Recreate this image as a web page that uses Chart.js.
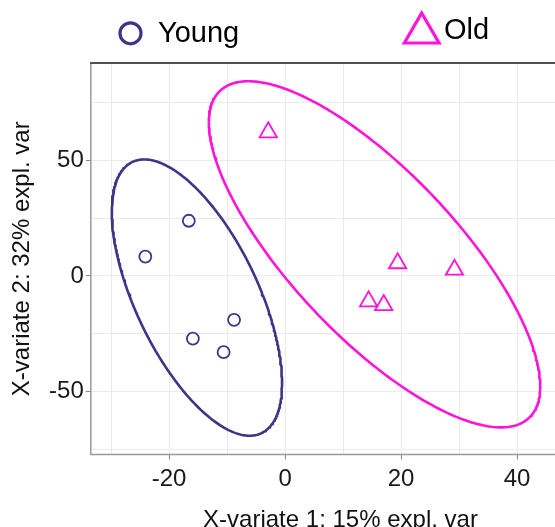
<!DOCTYPE html>
<html>
<head>
<meta charset="utf-8">
<script src="https://cdn.jsdelivr.net/npm/chart.js@4/dist/chart.umd.min.js"></script>
<style>
    html, body { margin: 0; padding: 0; background: #fff; overflow: hidden; }
    #wrap { width: 602px; height: 527px; }
</style>
</head>
<body>
<div id="wrap"><canvas id="plsdaChart" width="602" height="527"></canvas></div>
<script>
// Sample scores on the first two X-variates
const youngX = [-16.6, -24.1, -8.8, -15.9, -10.6];
const youngY = [23.9, 8.4, -19.0, -27.1, -33.0];
const oldX = [-2.9, 19.4, 29.2, 14.4, 17.0];
const oldY = [62.2, 5.5, 2.7, -11.0, -12.6];

const groupNames = ['Young', 'Old'];

// Axis grid and tick labels
const xGridValues = [-30, -20, -10, 0, 10, 20, 30, 40, 50];
const xTickLabels = [-20, 0, 20, 40];
const yGridValues = [-75, -50, -25, 0, 25, 50, 75];
const yTickLabels = [-50, 0, 50];
const xLimits = [-33.5, 52.6];
const yLimits = [-77.3, 92.2];

const youngColor = '#3d3587';
const oldColor = '#ff14d8';
const fontFamily = '"Liberation Sans", Arial, Helvetica, sans-serif';

const toPoints = (xs, ys) => xs.map((x, i) => ({ x: x, y: ys[i] }));

// 95% confidence ellipse of a group (same construction as ellipse::ellipse in R)
function confidenceEllipse(xs, ys, steps) {
    const n = xs.length;
    const mx = xs.reduce((a, b) => a + b, 0) / n;
    const my = ys.reduce((a, b) => a + b, 0) / n;
    let sxx = 0, syy = 0, sxy = 0;
    for (let i = 0; i < n; i++) {
        sxx += (xs[i] - mx) ** 2;
        syy += (ys[i] - my) ** 2;
        sxy += (xs[i] - mx) * (ys[i] - my);
    }
    const sx = Math.sqrt(sxx / (n - 1));
    const sy = Math.sqrt(syy / (n - 1));
    const d = Math.acos((sxy / (n - 1)) / (sx * sy));
    const t = Math.sqrt(5.991465); // qchisq(0.95, 2)
    const pts = [];
    for (let k = 0; k < steps; k++) {
        const a = 2 * Math.PI * k / (steps - 1);
        pts.push({ x: t * sx * Math.cos(a + d / 2) + mx, y: t * sy * Math.cos(a - d / 2) + my });
    }
    return pts;
}

// Panel border: light grey left/bottom, darker line on top
const panelBorder = {
    id: 'panelBorder',
    afterDraw(chart) {
        const { ctx, chartArea: a } = chart;
        ctx.save();
        ctx.strokeStyle = '#9a9a9a';
        ctx.lineWidth = 1.5;
        ctx.beginPath();
        ctx.moveTo(a.left, a.top);
        ctx.lineTo(a.left, a.bottom);
        ctx.lineTo(a.right, a.bottom);
        ctx.stroke();
        ctx.strokeStyle = '#505050';
        ctx.lineWidth = 2;
        ctx.beginPath();
        ctx.moveTo(a.left - 0.75, a.top);
        ctx.lineTo(a.right, a.top);
        ctx.stroke();
        ctx.restore();
    }
};

// Legend above the panel, symbols drawn like the points
const groupLegend = {
    id: 'groupLegend',
    afterDraw(chart, args, opts) {
        const ctx = chart.ctx;
        opts.items.forEach(item => {
            const ds = chart.data.datasets[item.dataset];
            ctx.save();
            ctx.strokeStyle = ds.pointBorderColor;
            ctx.lineWidth = 3.2;
            ctx.beginPath();
            if (ds.pointStyle === 'triangle') {
                for (let k = 0; k < 3; k++) {
                    const rad = k * 2 * Math.PI / 3;
                    const px = item.x + Math.sin(rad) * item.r;
                    const py = item.y - Math.cos(rad) * item.r;
                    if (k === 0) ctx.moveTo(px, py); else ctx.lineTo(px, py);
                }
                ctx.closePath();
            } else {
                ctx.arc(item.x, item.y, item.r, 0, 2 * Math.PI);
            }
            ctx.stroke();
            ctx.fillStyle = '#000';
            ctx.font = '29px ' + fontFamily;
            ctx.textBaseline = 'alphabetic';
            ctx.fillText(ds.label, item.textX, item.baseline);
            ctx.restore();
        });
    }
};

const ctx = document.getElementById('plsdaChart');

new Chart(ctx, {
    type: 'scatter',
    data: {
        datasets: [
            {
                label: groupNames[0],
                data: toPoints(youngX, youngY),
                pointStyle: 'circle',
                pointRadius: 6,
                pointBorderWidth: 1.8,
                pointBorderColor: youngColor,
                pointBackgroundColor: 'rgba(0,0,0,0)'
            },
            {
                label: groupNames[1],
                data: toPoints(oldX, oldY),
                pointStyle: 'triangle',
                pointRadius: 10,
                pointBorderWidth: 1.8,
                pointBorderColor: oldColor,
                pointBackgroundColor: 'rgba(0,0,0,0)'
            },
            {
                label: groupNames[0] + ' ellipse',
                data: confidenceEllipse(youngX, youngY, 361),
                showLine: true,
                pointRadius: 0,
                borderColor: youngColor,
                borderWidth: 2.6,
                borderJoinStyle: 'round',
                borderCapStyle: 'round',
                tension: 0,
                fill: false
            },
            {
                label: groupNames[1] + ' ellipse',
                data: confidenceEllipse(oldX, oldY, 361),
                showLine: true,
                pointRadius: 0,
                borderColor: oldColor,
                borderWidth: 2.6,
                borderJoinStyle: 'round',
                borderCapStyle: 'round',
                tension: 0,
                fill: false
            }
        ]
    },
    options: {
        responsive: false,
        animation: false,
        events: [],
        layout: { padding: { top: 63, right: 6, left: 0, bottom: 0 } },
        plugins: {
            legend: { display: false },
            tooltip: { enabled: false },
            groupLegend: {
                items: [
                    { dataset: 0, x: 130.5, y: 33.3, r: 10.5, textX: 158, baseline: 41.5 },
                    { dataset: 1, x: 421.7, y: 33, r: 20, textX: 444, baseline: 38.5 }
                ]
            }
        },
        scales: {
            x: {
                type: 'linear',
                min: xLimits[0],
                max: xLimits[1],
                afterBuildTicks: scale => { scale.ticks = xGridValues.map(v => ({ value: v })); },
                afterFit: scale => { scale.height = 72.5; },
                border: { display: false },
                grid: {
                    color: '#ebebeb',
                    lineWidth: 1,
                    tickLength: 5,
                    tickColor: c => xTickLabels.includes(c.tick.value) ? '#8a8a8a' : 'rgba(0,0,0,0)'
                },
                ticks: {
                    autoSkip: false,
                    maxRotation: 0,
                    padding: 5,
                    color: '#1a1a1a',
                    font: { family: fontFamily, size: 24 },
                    callback: v => xTickLabels.includes(v) ? String(v) : ''
                },
                title: {
                    display: true,
                    text: 'X-variate 1: 15% expl. var',
                    color: '#111',
                    font: { family: fontFamily, size: 24, lineHeight: 1 },
                    padding: { top: 0, bottom: -5 }
                }
            },
            y: {
                type: 'linear',
                min: yLimits[0],
                max: yLimits[1],
                afterBuildTicks: scale => { scale.ticks = yGridValues.map(v => ({ value: v })); },
                afterFit: scale => { scale.width = 90.8; },
                border: { display: false },
                grid: {
                    color: '#ebebeb',
                    lineWidth: 1,
                    tickLength: 5,
                    tickColor: c => yTickLabels.includes(c.tick.value) ? '#8a8a8a' : 'rgba(0,0,0,0)'
                },
                ticks: {
                    autoSkip: false,
                    padding: 2,
                    color: '#1a1a1a',
                    font: { family: fontFamily, size: 24 },
                    callback: v => yTickLabels.includes(v) ? String(v) : ''
                },
                title: {
                    display: true,
                    text: 'X-variate 2: 32% expl. var',
                    color: '#111',
                    font: { family: fontFamily, size: 24, lineHeight: 1 },
                    padding: { top: 10.5, bottom: 0 }
                }
            }
        }
    },
    plugins: [panelBorder, groupLegend]
});
</script>
</body>
</html>
